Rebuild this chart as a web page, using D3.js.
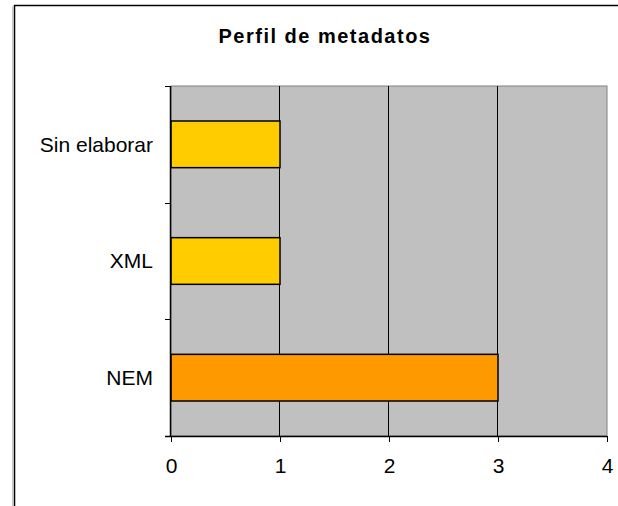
<!DOCTYPE html>
<html>
<head>
<meta charset="utf-8">
<script src="https://cdn.jsdelivr.net/npm/d3@7"></script>
<style>
  body { margin: 0; background: #fff; }
  svg { display: block; font-family: "Liberation Sans", Arial, sans-serif; }
</style>
</head>
<body>
<div id="chart"></div>
<script>
// chart data
var categories = ["Sin elaborar", "XML", "NEM"];
var values = [1, 1, 3];
var barColors = ["#FFCC00", "#FFCC00", "#FF9900"];
var xTicks = [0, 1, 2, 3, 4];

var W = 618, H = 506;
var margin = {top: 86, right: 11, bottom: 70, left: 171};
var width = W - margin.left - margin.right,
    height = H - margin.top - margin.bottom;

var svg = d3.select("#chart").append("svg")
  .attr("width", W)
  .attr("height", H);

// outer frame
svg.append("path")
  .attr("d", "M12.5,506 V6.5")
  .attr("fill", "none")
  .attr("stroke", "#c8c8c8")
  .attr("stroke-width", 1);
svg.append("path")
  .attr("d", "M14.5,506 V5.5 H618")
  .attr("fill", "none")
  .attr("stroke", "#000")
  .attr("stroke-width", 1.5);

// title
svg.append("text")
  .attr("x", 325)
  .attr("y", 43)
  .attr("text-anchor", "middle")
  .style("font-size", "20px")
  .style("font-weight", "bold")
  .style("letter-spacing", "1.5px")
  .text("Perfil de metadatos");

var g = svg.append("g")
  .attr("transform", "translate(" + margin.left + "," + margin.top + ")");

var x = d3.scaleLinear().domain([0, 4]).range([0, width]);
var y = d3.scaleBand().domain(categories).range([0, height]).paddingInner(0.6).paddingOuter(0.3);

// plot area
g.append("rect")
  .attr("x", 0).attr("y", 0)
  .attr("width", width).attr("height", height)
  .attr("fill", "#C0C0C0")
  .attr("stroke", "#808080")
  .attr("stroke-width", 1);

// gridlines
g.selectAll(".grid")
  .data(xTicks.slice(1, 4))
  .enter().append("line")
  .attr("x1", function(d) { return Math.round(x(d)) - 0.5; })
  .attr("x2", function(d) { return Math.round(x(d)) - 0.5; })
  .attr("y1", 0).attr("y2", height)
  .attr("stroke", "#000")
  .attr("stroke-width", 1);

// bars
g.selectAll(".bar")
  .data(categories)
  .enter().append("rect")
  .attr("x", x(0))
  .attr("y", function(d) { return y(d); })
  .attr("width", function(d, i) { return x(values[i]) - x(0); })
  .attr("height", y.bandwidth())
  .attr("fill", function(d, i) { return barColors[i]; })
  .attr("stroke", "#000")
  .attr("stroke-width", 1.5);

// x axis
var xAxis = g.append("g")
  .attr("transform", "translate(0," + height + ")")
  .call(d3.axisBottom(x).tickValues(xTicks).tickSize(6).tickPadding(16).tickFormat(d3.format("d")));
xAxis.select(".domain").attr("d", "M-6,0.5H" + width);
xAxis.selectAll("line").attr("stroke", "#000");
xAxis.selectAll("text").style("font-size", "21px").style("font-family", "'Liberation Sans', Arial, sans-serif").attr("fill", "#000");
xAxis.select(".domain").attr("stroke", "#000").attr("stroke-width", 1.5);

// y axis with category boundary ticks
var yBounds = [0, height / 3, 2 * height / 3, height];
var yAxis = g.append("g");
yAxis.append("line")
  .attr("x1", -0.5).attr("x2", -0.5)
  .attr("y1", 0).attr("y2", height)
  .attr("stroke", "#000").attr("stroke-width", 1.5);
yAxis.selectAll(".ytick")
  .data(yBounds)
  .enter().append("line")
  .attr("x1", -6).attr("x2", 0)
  .attr("y1", function(d) { return Math.round(d) + 0.5; })
  .attr("y2", function(d) { return Math.round(d) + 0.5; })
  .attr("stroke", "#000");
yAxis.selectAll(".ylabel")
  .data(categories)
  .enter().append("text")
  .attr("x", -18)
  .attr("y", function(d) { return y(d) + y.bandwidth() / 2; })
  .attr("dy", "0.35em")
  .attr("text-anchor", "end")
  .style("font-size", "21px")
  .text(function(d) { return d; });
</script>
</body>
</html>
